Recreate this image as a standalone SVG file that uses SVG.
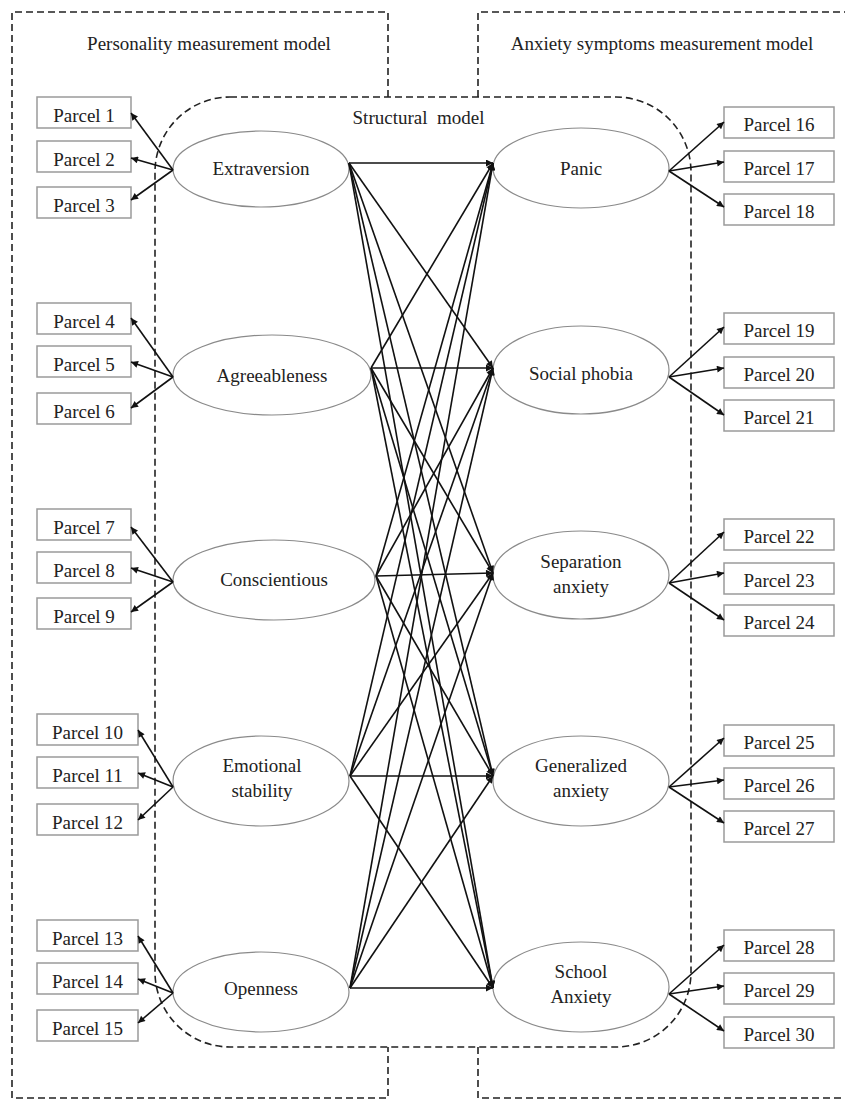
<svg xmlns="http://www.w3.org/2000/svg" width="845" height="1100" viewBox="0 0 845 1100">
<defs>
<marker id="ah" viewBox="0 0 10 10" refX="10" refY="5" markerWidth="9" markerHeight="7" markerUnits="userSpaceOnUse" orient="auto"><path d="M0,0 L10,5 L0,10 Z" fill="#111"/></marker>
<style>
text{font-family:"Liberation Serif","Times New Roman",serif;font-size:19px;fill:#222;text-anchor:middle}
.box{fill:#fff;stroke:#9a9a9a;stroke-width:1.5}
.lat{fill:#fff;stroke:#8a8a8a;stroke-width:1.2}
.dash{fill:none;stroke:#222;stroke-width:1.6;stroke-dasharray:7 4}
.c{stroke:#111;stroke-width:1.6;fill:none;marker-end:url(#ah)}
</style>
</defs>
<rect width="845" height="1100" fill="#fff"/>
<g id="boundaries">
<path class="dash" d="M388,97 V12 H12 V1098 H388 V1047"/>
<path class="dash" d="M478,97 V12 H845 M478,1047 V1098 H845"/>
<path class="dash" d="M230,97 H616 A75,75 0 0 1 691,172 V972 A75,75 0 0 1 616,1047 H230 A75,75 0 0 1 155,972 V172 A75,75 0 0 1 230,97 Z"/>
<text x="209" y="50">Personality measurement model</text>
<text x="662" y="50">Anxiety symptoms measurement model</text>
<text x="418.5" y="124" xml:space="preserve">Structural  model</text>
</g>
<g id="latent-left">
<g id="extraversion"><ellipse class="lat" cx="261" cy="169" rx="88" ry="38"/><text x="261" y="175">Extraversion</text></g>
<g id="agreeableness"><ellipse class="lat" cx="272" cy="375" rx="99" ry="40"/><text x="272" y="382">Agreeableness</text></g>
<g id="conscientious"><ellipse class="lat" cx="274" cy="580" rx="101" ry="40"/><text x="274" y="586">Conscientious</text></g>
<g id="emotional-stability"><ellipse class="lat" cx="261" cy="781" rx="88" ry="45"/><text x="262" y="772">Emotional</text><text x="262" y="797">stability</text></g>
<g id="openness"><ellipse class="lat" cx="261" cy="992" rx="88" ry="40"/><text x="261" y="995">Openness</text></g>
</g>
<g id="latent-right">
<g id="panic"><ellipse class="lat" cx="581" cy="168" rx="88" ry="40"/><text x="581" y="175">Panic</text></g>
<g id="social-phobia"><ellipse class="lat" cx="581" cy="370" rx="88" ry="44"/><text x="581" y="380">Social phobia</text></g>
<g id="separation-anxiety"><ellipse class="lat" cx="581" cy="575" rx="88" ry="44"/><text x="581" y="568">Separation</text><text x="581" y="593">anxiety</text></g>
<g id="generalized-anxiety"><ellipse class="lat" cx="581" cy="781" rx="88" ry="45"/><text x="581" y="772">Generalized</text><text x="581" y="797">anxiety</text></g>
<g id="school-anxiety"><ellipse class="lat" cx="581" cy="987" rx="88" ry="45"/><text x="581" y="978">School</text><text x="581" y="1003">Anxiety</text></g>
</g>
<g id="parcels-left">
<g id="p1"><rect class="box" x="37" y="97" width="94" height="31"/><text x="84" y="122">Parcel 1</text></g>
<g id="p2"><rect class="box" x="37" y="141" width="94" height="31"/><text x="84" y="166">Parcel 2</text></g>
<g id="p3"><rect class="box" x="37" y="187" width="94" height="31"/><text x="84" y="212">Parcel 3</text></g>
<g id="p4"><rect class="box" x="37" y="303" width="94" height="31"/><text x="84" y="328">Parcel 4</text></g>
<g id="p5"><rect class="box" x="37" y="346" width="94" height="31"/><text x="84" y="371">Parcel 5</text></g>
<g id="p6"><rect class="box" x="37" y="393" width="94" height="31"/><text x="84" y="418">Parcel 6</text></g>
<g id="p7"><rect class="box" x="37" y="509" width="94" height="31"/><text x="84" y="534">Parcel 7</text></g>
<g id="p8"><rect class="box" x="37" y="552" width="94" height="31"/><text x="84" y="577">Parcel 8</text></g>
<g id="p9"><rect class="box" x="37" y="598" width="94" height="31"/><text x="84" y="623">Parcel 9</text></g>
<g id="p10"><rect class="box" x="37" y="714" width="101" height="31"/><text x="87.5" y="739">Parcel 10</text></g>
<g id="p11"><rect class="box" x="37" y="757" width="101" height="31"/><text x="87.5" y="782">Parcel 11</text></g>
<g id="p12"><rect class="box" x="37" y="804" width="101" height="31"/><text x="87.5" y="829">Parcel 12</text></g>
<g id="p13"><rect class="box" x="37" y="920" width="101" height="31"/><text x="87.5" y="945">Parcel 13</text></g>
<g id="p14"><rect class="box" x="37" y="963" width="101" height="31"/><text x="87.5" y="988">Parcel 14</text></g>
<g id="p15"><rect class="box" x="37" y="1010" width="101" height="31"/><text x="87.5" y="1035">Parcel 15</text></g>
</g>
<g id="parcels-right">
<g id="p16"><rect class="box" x="724" y="107" width="110" height="31"/><text x="779" y="131">Parcel 16</text></g>
<g id="p17"><rect class="box" x="724" y="151" width="110" height="31"/><text x="779" y="175">Parcel 17</text></g>
<g id="p18"><rect class="box" x="724" y="194" width="110" height="31"/><text x="779" y="218">Parcel 18</text></g>
<g id="p19"><rect class="box" x="724" y="313" width="110" height="31"/><text x="779" y="337">Parcel 19</text></g>
<g id="p20"><rect class="box" x="724" y="357" width="110" height="31"/><text x="779" y="381">Parcel 20</text></g>
<g id="p21"><rect class="box" x="724" y="400" width="110" height="31"/><text x="779" y="424">Parcel 21</text></g>
<g id="p22"><rect class="box" x="724" y="519" width="110" height="31"/><text x="779" y="543">Parcel 22</text></g>
<g id="p23"><rect class="box" x="724" y="563" width="110" height="31"/><text x="779" y="587">Parcel 23</text></g>
<g id="p24"><rect class="box" x="724" y="605" width="110" height="31"/><text x="779" y="629">Parcel 24</text></g>
<g id="p25"><rect class="box" x="724" y="725" width="110" height="31"/><text x="779" y="749">Parcel 25</text></g>
<g id="p26"><rect class="box" x="724" y="768" width="110" height="31"/><text x="779" y="792">Parcel 26</text></g>
<g id="p27"><rect class="box" x="724" y="811" width="110" height="31"/><text x="779" y="835">Parcel 27</text></g>
<g id="p28"><rect class="box" x="724" y="930" width="110" height="31"/><text x="779" y="954">Parcel 28</text></g>
<g id="p29"><rect class="box" x="724" y="973" width="110" height="31"/><text x="779" y="997">Parcel 29</text></g>
<g id="p30"><rect class="box" x="724" y="1017" width="110" height="31"/><text x="779" y="1041">Parcel 30</text></g>
</g>
<g id="connectors">
<path class="c" d="M173,170 L131,113"/><path class="c" d="M173,170 L131,158"/><path class="c" d="M173,170 L131,200"/>
<path class="c" d="M173,377 L131,318"/><path class="c" d="M173,377 L131,362"/><path class="c" d="M173,377 L131,408"/>
<path class="c" d="M173,582 L131,527"/><path class="c" d="M173,582 L131,568"/><path class="c" d="M173,582 L131,612"/>
<path class="c" d="M173,787 L138,730"/><path class="c" d="M173,787 L138,773"/><path class="c" d="M173,787 L138,820"/>
<path class="c" d="M173,993 L138,936"/><path class="c" d="M173,993 L138,979"/><path class="c" d="M173,993 L138,1023"/>
<path class="c" d="M669,171 L724,122"/><path class="c" d="M669,171 L724,162"/><path class="c" d="M669,171 L724,207"/>
<path class="c" d="M669,377 L724,327"/><path class="c" d="M669,377 L724,368"/><path class="c" d="M669,377 L724,415"/>
<path class="c" d="M669,583 L724,532"/><path class="c" d="M669,583 L724,573"/><path class="c" d="M669,583 L724,620"/>
<path class="c" d="M669,787 L724,738"/><path class="c" d="M669,787 L724,780"/><path class="c" d="M669,787 L724,823"/>
<path class="c" d="M669,994 L724,945"/><path class="c" d="M669,994 L724,986"/><path class="c" d="M669,994 L724,1031"/>
<path class="c" d="M349,163 L493,163"/><path class="c" d="M349,163 L493,368"/><path class="c" d="M349,163 L493,573"/><path class="c" d="M349,163 L493,776"/><path class="c" d="M349,163 L493,988"/>
<path class="c" d="M371,368 L493,163"/><path class="c" d="M371,368 L493,368"/><path class="c" d="M371,368 L493,573"/><path class="c" d="M371,368 L493,776"/><path class="c" d="M371,368 L493,988"/>
<path class="c" d="M376,576 L493,163"/><path class="c" d="M376,576 L493,368"/><path class="c" d="M376,576 L493,573"/><path class="c" d="M376,576 L493,776"/><path class="c" d="M376,576 L493,988"/>
<path class="c" d="M350,776 L493,163"/><path class="c" d="M350,776 L493,368"/><path class="c" d="M350,776 L493,573"/><path class="c" d="M350,776 L493,776"/><path class="c" d="M350,776 L493,988"/>
<path class="c" d="M350,988 L493,163"/><path class="c" d="M350,988 L493,368"/><path class="c" d="M350,988 L493,573"/><path class="c" d="M350,988 L493,776"/><path class="c" d="M350,988 L493,988"/>
</g>
</svg>
